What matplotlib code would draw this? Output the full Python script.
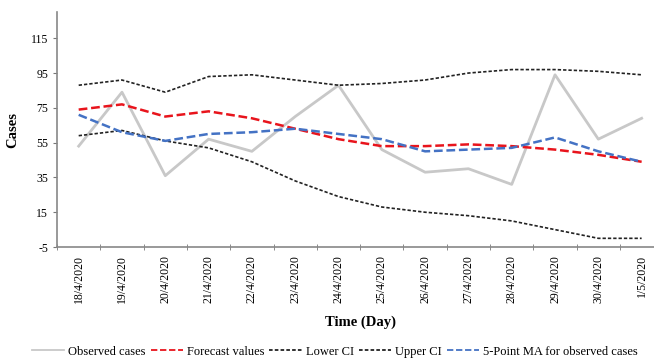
import matplotlib
matplotlib.use("Agg")
import matplotlib.pyplot as plt

plt.rcParams['font.family'] = ['Liberation Serif', 'DejaVu Serif']
plt.rcParams['axes.unicode_minus'] = False

days = ['18/4/2020', '19/4/2020', '20/4/2020', '21/4/2020', '22/4/2020', '23/4/2020',
        '24/4/2020', '25/4/2020', '26/4/2020', '27/4/2020', '28/4/2020', '29/4/2020',
        '30/4/2020', '1/5/2020']
observed = [53, 84, 36, 57, 50, 70, 88, 51, 38, 40, 31, 94, 57, 69]
forecast = [74, 77, 70, 73, 69, 63, 57, 53, 53, 54, 53, 51, 48, 44]
lower_ci = [59, 62, 56, 52, 44, 33, 24, 18, 15, 13, 10, 5, 0, 0]
upper_ci = [88, 91, 84, 93, 94, 91, 88, 89, 91, 95, 97, 97, 96, 94]
ma5 = [71, 61, 56, 60, 61, 63, 60, 57, 50, 51, 52, 58, 50, 44]

x = list(range(len(days)))

fig = plt.figure(figsize=(6.54, 3.58), dpi=100)
ax = fig.add_axes([0.0872, 0.310, 0.927, 0.656])

ax.plot(x, observed, color='#c8c8c8', lw=2.0, label='Observed cases')
ax.plot(x, forecast, color='#e8141c', lw=1.8, ls=(0, (3.5, 1.5)), label='Forecast values')
ax.plot(x, lower_ci, color='#222222', lw=1.2, ls=(0, (2, 1.2)), label='Lower CI')
ax.plot(x, upper_ci, color='#222222', lw=1.2, ls=(0, (2, 1.2)), label='Upper CI')
ax.plot(x, ma5, color='#4472c4', lw=1.8, ls=(0, (3.5, 1.5)), label='5-Point MA for observed cases')

ax.set_xlim(-0.5, 13.5)
ax.set_ylim(-5, 130)
ax.set_yticks(range(-5, 116, 20))
ax.set_xticks(x)
ax.set_xticklabels(days, rotation=90, fontsize=8.5)
ax.set_xticks([i + 0.5 for i in range(-1, 14)], minor=True)
ax.tick_params(axis='x', which='major', length=0, pad=6)
ax.tick_params(axis='x', which='minor', length=4, direction='inout', color='#777777')
ax.tick_params(axis='y', labelsize=8.5, length=3, color='#777777')

for s in ['top', 'right']:
    ax.spines[s].set_visible(False)
for s in ['left', 'bottom']:
    ax.spines[s].set_color('#888888')
    ax.spines[s].set_linewidth(1.2)

ax.set_ylabel('Cases', fontsize=10.5, fontweight='bold', labelpad=8)
ax.set_xlabel('Time (Day)', fontsize=10.5, fontweight='bold', labelpad=9)

leg = fig.legend(loc='center', bbox_to_anchor=(0.512, 0.018), ncol=5, frameon=False,
                 fontsize=9.0, handlelength=2.6, handletextpad=0.3, columnspacing=0.4)
for h in leg.get_lines():
    h.set_linewidth(1.3)

fig.savefig('out.png', dpi=100)
